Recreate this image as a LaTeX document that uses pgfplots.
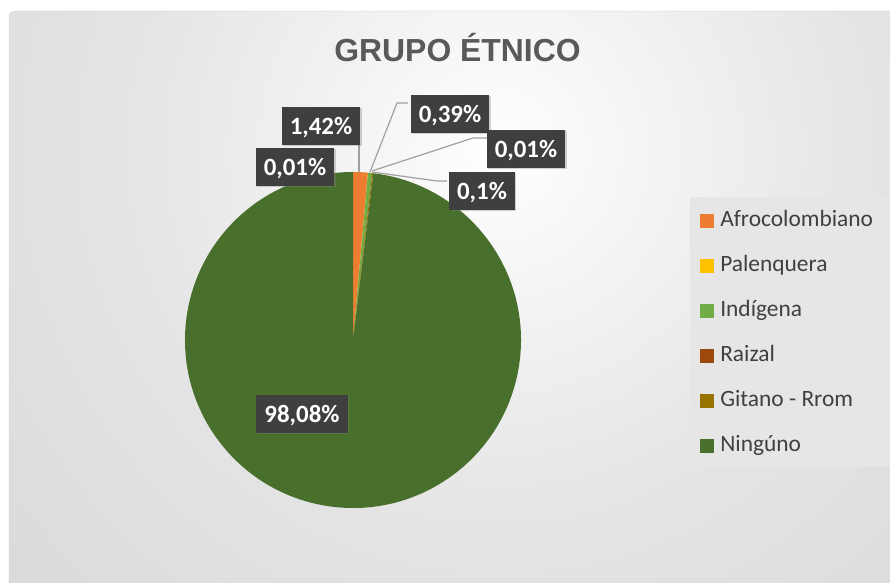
\documentclass[border=0pt]{standalone}
\usepackage{pgfplots}
\pgfplotsset{compat=1.18}
\usepackage{pgfplotstable}
\usepackage{fontspec}
\setmainfont{Carlito}
\newfontfamily\titlefont{Liberation Sans}
\usetikzlibrary{shadows}

\definecolor{cAfro}{HTML}{ED7D31}
\definecolor{cPale}{HTML}{FFC000}
\definecolor{cIndi}{HTML}{70AD47}
\definecolor{cRaiz}{HTML}{9E480E}
\definecolor{cGita}{HTML}{997300}
\definecolor{cNing}{HTML}{48702C}
\colorlet{slice0}{cAfro}
\colorlet{slice1}{cPale}
\colorlet{slice2}{cIndi}
\colorlet{slice3}{cRaiz}
\colorlet{slice4}{cGita}
\colorlet{slice5}{cNing}
\definecolor{labelbg}{HTML}{3F3F3F}
\definecolor{leader}{HTML}{A0A0A0}
\definecolor{txtgray}{HTML}{404040}
\definecolor{titlegray}{HTML}{595959}
\definecolor{bg1}{HTML}{F4F4F4}
\definecolor{bg2}{HTML}{E4E4E4}
\definecolor{bg3}{HTML}{D8D8D8}
\definecolor{bg4}{HTML}{CCCCCC}
\definecolor{bg5}{HTML}{C2C2C2}
\definecolor{legbg}{HTML}{E6E6E6}

\pgfdeclareradialshading{chartbg}{\pgfpoint{0bp}{0bp}}{color(0bp)=(white); color(6bp)=(bg1); color(16bp)=(bg2); color(30bp)=(bg3); color(46bp)=(bg4); color(72bp)=(bg5)}

% porcentajes por grupo
\pgfplotstableread{
group value
Afrocolombiano 1.42
Palenquera 0.01
Indigena 0.39
Raizal 0.01
Gitano 0.10
Ninguno 98.08
}\etnicodata

\begin{document}
\begin{tikzpicture}[x=1bp,y=1bp]
\clip (0,0) rectangle (890,583);
\fill[white] (0,0) rectangle (890,583);
\begin{scope}
  \clip[rounded corners=6bp] (9,-10) rectangle (905,572);
  \path[shading=chartbg] (-100,-167) rectangle (1100,1033);
\end{scope}
\draw[gray!35, rounded corners=6bp] (9,-10) rectangle (905,572);
\fill[legbg] (690,116) rectangle (890,386);

\node[font=\titlefont\bfseries\fontsize{32}{37}\selectfont, text=titlegray, anchor=base]
  at (457.5,521) {GRUPO ÉTNICO};

\begin{axis}[
    at={(353bp,243bp)}, anchor=origin,
    scale only axis, width=336bp, height=336bp,
    xmin=-1, xmax=1, ymin=-1, ymax=1,
    hide axis, clip=false,
    legend image code/.code={\fill[#1, draw=none] (0bp,-7bp) rectangle (14bp,7bp);},
    legend style={
        at={(axis cs:2.048,0.786)}, anchor=north west,
        draw=none, fill=none,
        font=\fontsize{23.5}{28}\selectfont, text=txtgray,
        nodes={inner sep=0pt, text height=16bp, text depth=5bp},
        row sep=24bp, column sep=6bp
    },
    legend cell align=left,
]
\pgfplotstablegetrowsof{\etnicodata}
\pgfmathtruncatemacro\lastrow{\pgfplotsretval-1}
\def\curangle{90}
\pgfplotsforeachungrouped \i in {0,...,\lastrow}{%
  \pgfplotstablegetelem{\i}{value}\of\etnicodata
  \pgfmathsetmacro\nextangle{\curangle-\pgfplotsretval/100.01*360}
  \edef\doslice{\noexpand\fill[slice\i] (axis cs:0,0) -- ++(\curangle:168bp)
    arc[start angle=\curangle, end angle=\nextangle, radius=168bp] -- cycle;}
  \doslice
  \global\let\curangle\nextangle
}
\addlegendimage{fill=cAfro}\addlegendentry{Afrocolombiano}
\addlegendimage{fill=cPale}\addlegendentry{Palenquera}
\addlegendimage{fill=cIndi}\addlegendentry{Indígena}
\addlegendimage{fill=cRaiz}\addlegendentry{Raizal}
\addlegendimage{fill=cGita}\addlegendentry{Gitano - Rrom}
\addlegendimage{fill=cNing}\addlegendentry{Ningúno}
\end{axis}

% líneas guía
\draw[leader, line width=1.2bp] (359,438) -- (359,411);
\draw[leader, line width=1.2bp] (370,411) -- (397,480) -- (408,480);
\draw[leader, line width=1.2bp] (372,412) -- (473,445) -- (487,445);
\draw[leader, line width=1.2bp] (372,411) -- (437,402) -- (447,402);

\tikzset{lbl/.style={fill=labelbg, text=white, font=\bfseries\fontsize{25}{30}\selectfont,
  inner xsep=8bp, inner ysep=0pt, text height=17bp, text depth=0bp, minimum height=38bp,
  drop shadow={shadow xshift=1.5bp, shadow yshift=-1.5bp, opacity=0.35}}}
\node[lbl] at (321,457) {1,42\%};
\node[lbl] at (295,416) {0,01\%};
\node[lbl] at (450,469) {0,39\%};
\node[lbl] at (526,434) {0,01\%};
\node[lbl] at (482,392) {0,1\%};
\node[lbl] at (302,169) {98,08\%};
\end{tikzpicture}
\end{document}
